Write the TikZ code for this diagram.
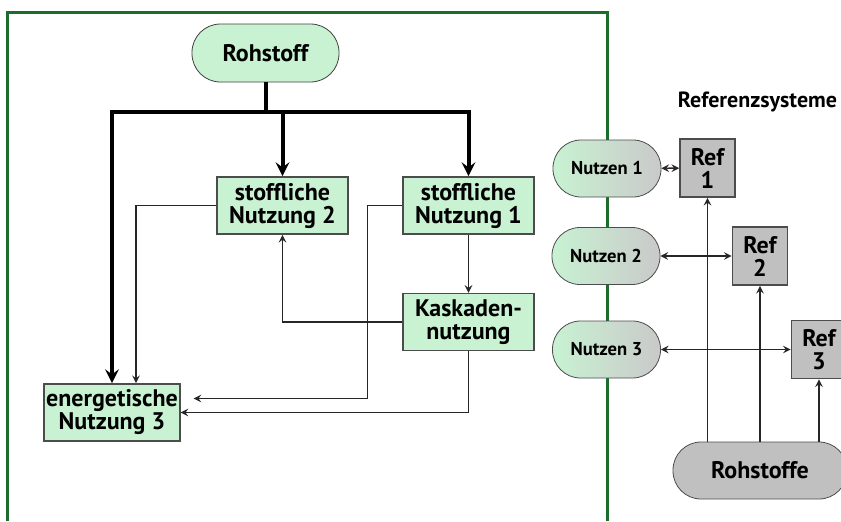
\documentclass[tikz,border=0pt]{standalone}
\usepackage{fontspec}
\setmainfont{PT Sans}
\usepackage{xcolor}
\usepackage{tikz}
\usetikzlibrary{shapes,arrows,positioning}

\definecolor{usegreen}{RGB}{200,242,210}
\definecolor{refgray}{RGB}{192,192,192}
\definecolor{framegreen}{RGB}{28,108,44}

\begin{document}
\begin{tikzpicture}[
    x=0.5pt, y=-0.5pt,
    % Node styles
    source/.style={rectangle, rounded corners=14.2pt, draw=black!75, fill=usegreen,
        minimum width=73.5pt, minimum height=29pt, font=\fontsize{12}{13}\selectfont\bfseries},
    usage/.style={rectangle, draw=black!70, fill=usegreen, line width=0.8pt,
        minimum width=65.5pt, minimum height=28.5pt, align=center, inner sep=1pt,
        font=\fontsize{12}{11.5}\selectfont\bfseries},
    benefit/.style={rectangle, rounded corners=14pt, draw=black!70, left color=usegreen, right color=refgray!85,
        minimum width=54pt, minimum height=28.5pt, font=\fontsize{9.3}{10}\selectfont\bfseries},
    reference/.style={rectangle, draw=black!70, fill=refgray, line width=0.8pt,
        minimum width=27.5pt, minimum height=29pt, align=center, inner sep=1pt,
        font=\fontsize{12}{11.5}\selectfont\bfseries},
    rawstock/.style={rectangle, rounded corners=14pt, draw=black!70, fill=refgray,
        minimum width=87pt, minimum height=28.5pt, font=\fontsize{12}{13}\selectfont\bfseries},
    % Arrow styles
    mainarrow/.style={->, >=stealth, line width=2pt},
    arrow/.style={->, >=stealth, line width=0.7pt, color=black!85},
    bothway/.style={<->, >=stealth, line width=0.7pt, color=black!85},
    frame/.style={draw=framegreen, line width=1.5pt}
]
    \clip (0,0) rectangle (841,521);

    % Frame of the system
    \draw[frame] (7,521) -- (7,12) -- (607,12) -- (607,521);

    % Nodes inside the system
    \node[source] (rohstoff) at (265.5,53) {Rohstoff};
    \node[usage] (stoff2) at (282.5,205.5) {stoffliche\\Nutzung 2};
    \node[usage] (stoff1) at (468.5,205.5) {stoffliche\\Nutzung 1};
    \node[usage, below=29pt of stoff1] (kaskade) {Kaskaden-\\nutzung};
    \node[usage, minimum width=65pt] (energie) at (112,412.5) {energetische\\Nutzung 3};

    % Reference systems
    \node[font=\fontsize{11}{12}\selectfont\bfseries] (refsys) at (757.5,102) {Referenzsysteme};
    \node[benefit] (nutzen1) at (607,168.5) {Nutzen 1};
    \node[benefit] (nutzen2) at (606,256) {Nutzen 2};
    \node[benefit] (nutzen3) at (606.5,349.5) {Nutzen 3};
    \node[reference] (ref1) at (707.5,168) {Ref\\1};
    \node[reference] (ref2) at (760,256) {Ref\\2};
    \node[reference] (ref3) at (819,349.5) {Ref\\3};
    \node[rawstock] (rohstoffe) at (760,470.5) {Rohstoffe};

    % Main flows from the raw material
    \coordinate (split) at (265.5,112);
    \draw[line width=2pt] (rohstoff.south) -- (split);
    \draw[mainarrow] (split) -| (energie.north);
    \draw[mainarrow] (split) -| (stoff2.north);
    \draw[mainarrow] (split) -| (stoff1.north);

    % Further use
    \draw[arrow] (stoff2.west) -| ([xshift=12pt]energie.north);
    \draw[arrow, shorten >=6.5pt] (stoff1.west) -- ++(-35,0) |- ([yshift=7pt]energie.east);
    \draw[arrow] (stoff1) -- (kaskade);
    \draw[arrow] (kaskade.west) -| (stoff2.south);
    \draw[arrow] (kaskade.south) |- (energie.east);

    % Comparison with reference systems
    \draw[bothway] (nutzen1) -- (ref1);
    \draw[bothway] (nutzen2) -- (ref2);
    \draw[bothway] (nutzen3) -- (ref3);
    \draw[arrow] (rohstoffe.north -| ref1) -- (ref1);
    \draw[arrow] (rohstoffe.north -| ref2) -- (ref2);
    \draw[arrow] (rohstoffe.north -| ref3) -- (ref3);
\end{tikzpicture}
\end{document}
